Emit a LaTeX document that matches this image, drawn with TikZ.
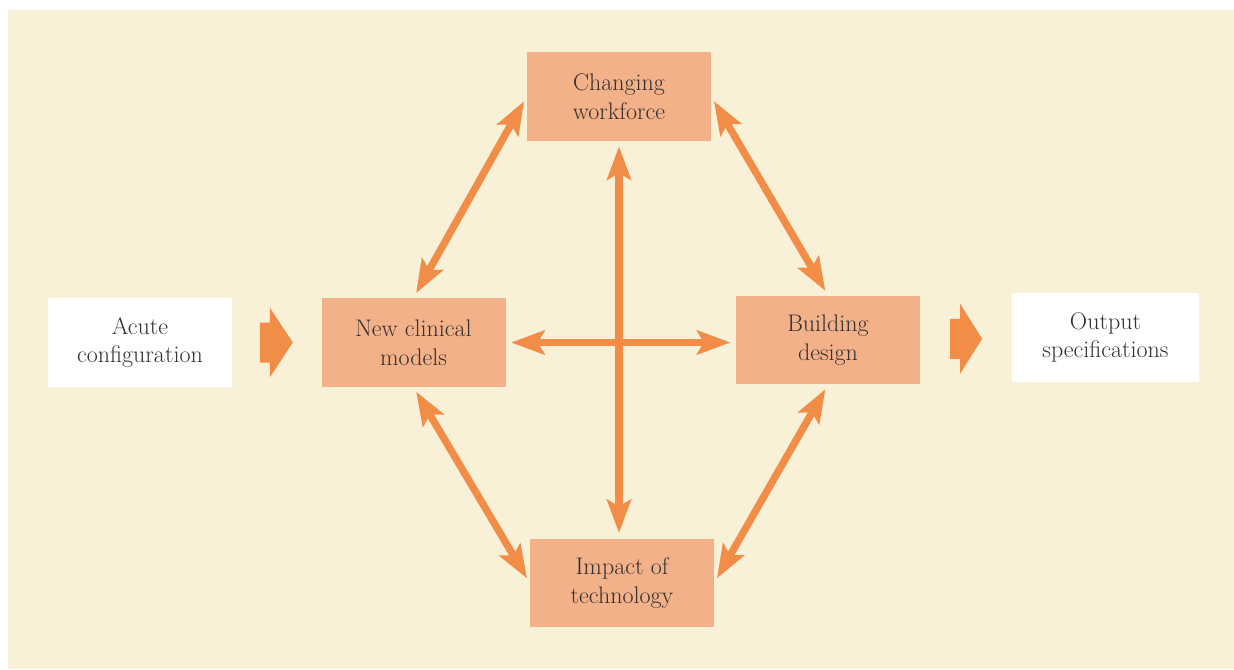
\documentclass[tikz,border=0pt]{standalone}
\usepackage{tikz}
\usetikzlibrary{arrows.meta}
\usetikzlibrary{calc}
\usetikzlibrary{positioning}
\definecolor{pagebg}{RGB}{248,241,216}
\definecolor{boxfill}{RGB}{243,177,137}
\definecolor{arrowfill}{RGB}{242,141,72}
\definecolor{textgrey}{RGB}{52,48,45}
\tikzset{stage/.style = {rectangle, fill=boxfill, text=textgrey, align=center,
                         minimum width=138pt, minimum height=66.5pt, inner sep=0,
                         font=\fontsize{18}{21.5}\selectfont}}
\tikzset{endstage/.style = {stage, fill=white}}
\tikzset{link/.style = {draw=arrowfill, line width=5.5pt,
                        {Stealth[length=25pt, width=18pt, inset=5pt]}-{Stealth[length=25pt, width=18pt, inset=5pt]},
                        shorten <=4pt, shorten >=4pt}}
\tikzset{fatarrow/.style = {fill=arrowfill}}

\begin{document}
\begin{tikzpicture}[x=0.75pt, y=-0.75pt]
    \fill [white] (0, 0) rectangle (1234, 669);
    \fill [pagebg] (8, 10) rectangle (1234, 669);

    \node [endstage] (acute) at (140, 342.5) {Acute\\configuration};
    \node [stage] (clinical) at (413.5, 342.5) {New clinical\\models};
    \node [stage] (workforce) at (619, 96.5) {Changing\\workforce};
    \node [stage] (building) at (828, 340) {Building\\design};
    \node [stage] (technology) at (622, 583) {Impact of\\technology};
    \node [endstage, minimum width=140pt] (output) at (1105.5, 337.5) {Output\\specifications};

    \coordinate (in) at ($(acute.east)!0.5!(clinical.west)$);
    \coordinate (out) at ($(building.east)!0.5!(output.west)$);
    \fill [fatarrow] (in) +(-17, -20) -- +(-7, -20) -- +(-7, -35) -- +(16, 0)
        -- +(-7, 35) -- +(-7, 20) -- +(-17, 20) -- cycle;
    \fill [fatarrow] (out) +(-16, -20) -- +(-6, -20) -- +(-6, -35) -- +(16, 0)
        -- +(-6, 35) -- +(-6, 20) -- +(-16, 20) -- cycle;

    \draw [link] (clinical.north) -- (workforce.west);
    \draw [link] (workforce.east) -- (building.north);
    \draw [link] (clinical.south) -- (technology.west);
    \draw [link] (building.south) -- (technology.east);
    \draw [link] (clinical.east) -- (clinical.east -| building.west);
    \draw [link] (workforce.south) -- (workforce.south |- technology.north);
\end{tikzpicture}
\end{document}
